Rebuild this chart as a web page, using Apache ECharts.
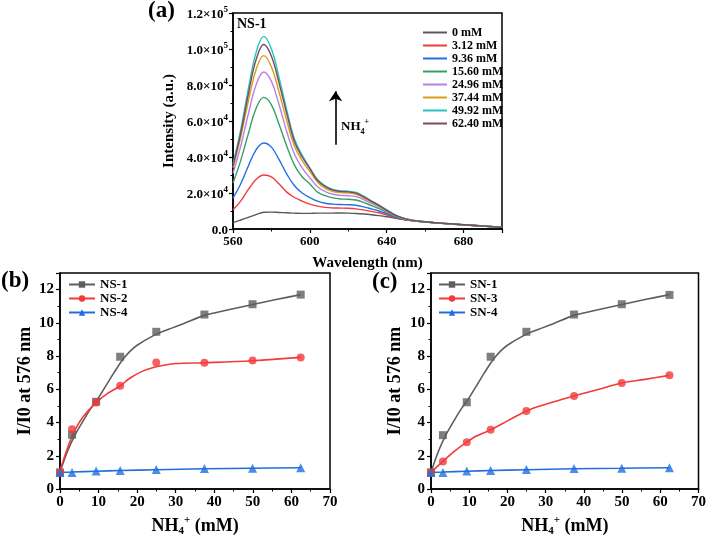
<!DOCTYPE html>
<html>
<head>
<meta charset="utf-8">
<script src="https://cdn.jsdelivr.net/npm/echarts@6/dist/echarts.min.js"></script>
<style>
html,body{margin:0;padding:0;background:#fff;}
#chart{width:709px;height:539px;}
</style>
</head>
<body>
<div id="chart"></div>
<script>
// ---------- Panel (a): emission spectra ----------
const wavelengths = [560,564,568,572,576,580,584,588,592,596,600,604,608,612,616,620,624,628,632,636,640,644,648,652,656,660,665,670,680,690,700];
const spectraNames = ['0 mM','3.12 mM','9.36 mM','15.60 mM','24.96 mM','37.44 mM','49.92 mM','62.40 mM'];
const spec0    = [3500,5000,6500,8000,9300,9400,9200,9000,8800,8700,8700,8800,8800,8800,8900,8800,8600,8300,7900,7400,6800,6100,5400,4800,4300,3900,3400,3000,2300,1600,1000];
const spec312  = [10700,15500,22000,27500,30000,29000,25000,20500,17500,15500,13800,12700,12000,11700,11600,11500,11200,10600,9800,9000,7800,6500,5400,4700,4300,3900,3400,3000,2300,1600,1000];
const spec936  = [17200,25000,35000,44000,47800,45500,38500,30500,24000,20000,17500,15500,14300,13800,13600,13500,13200,12300,11200,10000,8500,6900,5600,4800,4300,3900,3400,3000,2300,1600,1000];
const spec1560 = [25600,38000,53000,67000,73100,69000,58000,46000,35500,29000,25000,20500,18500,17300,16700,16500,16100,14800,13000,11300,9300,7300,5800,4900,4400,4000,3500,3100,2300,1600,1000];
const spec2496 = [31000,46000,64000,80000,87200,82000,69000,54000,41500,34000,28500,23500,20800,19300,18700,18500,18000,16300,14300,12200,9800,7600,6000,5000,4400,4000,3500,3100,2400,1700,1000];
const spec3744 = [34000,51000,71000,88500,96300,90000,76000,60000,46000,38000,32000,26000,22500,20800,20200,20000,19300,17300,15000,12700,10100,7800,6100,5100,4500,4000,3500,3100,2400,1700,1000];
const spec4992 = [36000,55000,78000,98000,107000,100000,84000,66000,50000,41000,34000,27500,24000,22000,21200,21000,20300,18200,15700,13300,10600,8100,6300,5200,4500,4000,3500,3100,2400,1700,1000];
const spec6240 = [35000,53000,75000,94000,102500,96000,81000,64000,48500,40000,33500,27000,23500,21600,20900,20600,19900,17900,15400,13100,10400,7900,6200,5100,4500,4000,3500,3100,2400,1700,1000];
const spectra = [spec0,spec312,spec936,spec1560,spec2496,spec3744,spec4992,spec6240];
const spectraColors = ['#5a5a5a','#f23c3c','#2370e0','#33a064','#b97fe6','#d49f1c','#22c6bd','#7b4a5c'];
const xTicksA = [560,600,640,680];
const yTickLabelsA = {0:'0.0',20000:'2.0×10|4',40000:'4.0×10|4',60000:'6.0×10|4',80000:'8.0×10|4',100000:'1.0×10|5',120000:'1.2×10|5'};
const arrowX = 613.4, arrowY0 = 46800, arrowY1 = 76500;

// ---------- Panels (b),(c): I/I0 at 576 nm ----------
const conc = [0,3.12,9.36,15.60,24.96,37.44,49.92,62.40];
const ns1 = [1.0,3.26,5.25,7.96,9.46,10.5,11.12,11.7];
const ns2 = [1.0,3.6,5.2,6.22,7.62,7.6,7.74,7.92];
const ns4 = [1.0,1.0,1.08,1.12,1.17,1.23,1.25,1.28];
const sn1 = [1.0,3.24,5.22,7.96,9.46,10.5,11.12,11.68];
const sn3 = [1.0,1.66,2.82,3.56,4.7,5.6,6.38,6.84];
const sn4 = [1.0,1.0,1.08,1.12,1.17,1.23,1.25,1.28];
// fitted curves
const fit1X = [0,2,4,6,8,10,12,14,16,18,20,24,28,32,37.44,44,50,56,62.4];
const fit1Y = [1.0,2.3,3.3,4.1,4.85,5.5,6.25,7.0,7.7,8.25,8.65,9.2,9.6,9.95,10.45,10.8,11.1,11.4,11.7];
const fitNs2X = [0,2,4,6,9.36,12,15.6,18,21,24,27,30,37.44,50,62.4];
const fitNs2Y = [1.1,2.5,3.6,4.35,5.2,5.7,6.2,6.65,7.05,7.3,7.45,7.55,7.6,7.72,7.92];
const fitSn3X = [0,3.12,6,9.36,12,15.6,20,24.96,30,37.44,44,49.92,56,62.4];
const fitSn3Y = [1.0,1.66,2.25,2.82,3.2,3.56,4.1,4.7,5.1,5.6,6.0,6.38,6.6,6.84];
const fit4Y = [1.0,1.02,1.07,1.11,1.16,1.22,1.25,1.28];

const FONT = '"Liberation Serif","Times New Roman",serif';
const zip = (xs, ys) => xs.map((x, i) => [x, ys[i]]);

const chart = echarts.init(document.getElementById('chart'));

function axisBase(extra) {
  return Object.assign({
    axisLine: {show: true, onZero: false, lineStyle: {color: '#000', width: 1.5}},
    axisTick: {show: true, length: 4, lineStyle: {color: '#000', width: 1.2}},
    minorTick: {show: true, splitNumber: 2, length: 2.5, lineStyle: {color: '#000', width: 1}},
    splitLine: {show: false},
    nameTextStyle: {fontFamily: FONT, fontWeight: 'bold', color: '#000'}
  }, extra);
}

const nhRich = {
  a: {fontFamily: FONT, fontWeight: 'bold', fontSize: 18, color: '#000', lineHeight: 22, verticalAlign: 'middle'},
  s: {fontFamily: FONT, fontWeight: 'bold', fontSize: 11, color: '#000', verticalAlign: 'bottom', lineHeight: 22},
  p: {fontFamily: FONT, fontWeight: 'bold', fontSize: 11, color: '#000', verticalAlign: 'top', lineHeight: 22}
};

const series = [];
spectra.forEach((arr, i) => {
  const s = {
    name: spectraNames[i], type: 'line', xAxisIndex: 0, yAxisIndex: 0,
    data: zip(wavelengths, arr), smooth: 0.4, symbol: 'none',
    lineStyle: {width: 1.4, color: spectraColors[i]}, itemStyle: {color: spectraColors[i]},
    z: 2 + i
  };
  if (i === 0) {
    s.markLine = {
      silent: true, symbol: ['none', 'arrow'], symbolSize: 10,
      lineStyle: {color: '#000', width: 1.6, type: 'solid'}, label: {show: false},
      data: [[{coord: [arrowX, arrowY0]}, {coord: [arrowX, arrowY1]}]]
    };
  }
  series.push(s);
});

function addPanel(idx, names, pts, fits, symbols, colors) {
  names.forEach((nm, k) => {
    series.push({
      name: nm, type: 'line', xAxisIndex: idx, yAxisIndex: idx,
      data: fits[k], smooth: 0.35, symbol: symbols[k], symbolSize: 8, showSymbol: false,
      lineStyle: {width: 1.6, color: colors[k]}, itemStyle: {color: colors[k]}, z: 3
    });
    series.push({
      name: nm + ' data', type: 'scatter', xAxisIndex: idx, yAxisIndex: idx,
      data: zip(conc, pts[k]), symbol: symbols[k], symbolSize: symbols[k] === 'triangle' ? 9 : 8,
      itemStyle: {color: colors[k]}, z: 4
    });
  });
}
const ptColors = ['#5e5e5e', '#f23a3a', '#1f6fdd'];
const ptSymbols = ['rect', 'circle', 'triangle'];
addPanel(1, ['NS-1','NS-2','NS-4'], [ns1, ns2, ns4],
  [zip(fit1X, fit1Y), zip(fitNs2X, fitNs2Y), zip(conc, fit4Y)], ptSymbols, ptColors);
addPanel(2, ['SN-1','SN-3','SN-4'], [sn1, sn3, sn4],
  [zip(fit1X, fit1Y), zip(fitSn3X, fitSn3Y), zip(conc, fit4Y)], ptSymbols, ptColors);

const gridStyle = {show: true, borderColor: '#000', borderWidth: 1.5, backgroundColor: 'transparent', containLabel: false};

const concAxis = (gi) => axisBase({
  type: 'value', gridIndex: gi, min: 0, max: 70, interval: 10,
  axisLabel: {fontFamily: FONT, fontWeight: 'bold', fontSize: 15, color: '#000', margin: 6},
  name: '{a|NH}{s|4}{p|+}{a| (mM)}', nameLocation: 'middle', nameGap: 26,
  nameTextStyle: {rich: nhRich}
});
const ratioAxis = (gi, gap) => axisBase({
  type: 'value', gridIndex: gi, min: 0, max: 13, interval: 2,
  axisLabel: {fontFamily: FONT, fontWeight: 'bold', fontSize: 15, color: '#000', margin: 6, showMaxLabel: false},
  name: 'I/I0 at 576 nm', nameLocation: 'middle', nameGap: gap, nameRotate: 90,
  nameTextStyle: {fontFamily: FONT, fontWeight: 'bold', fontSize: 18, color: '#000'}
});

const smallLegend = (names, left) => ({
  data: names, orient: 'vertical', left: left, top: 278, padding: 0,
  itemWidth: 26, itemHeight: 8, itemGap: 1,
  textStyle: {fontFamily: FONT, fontWeight: 'bold', fontSize: 13, color: '#000', lineHeight: 13}
});

const option = {
  backgroundColor: '#fff',
  animation: false,
  textStyle: {fontFamily: FONT},
  grid: [
    Object.assign({left: 233, top: 13, width: 269, height: 216}, gridStyle),
    Object.assign({left: 60, top: 273, width: 270, height: 216}, gridStyle),
    Object.assign({left: 431, top: 273, width: 269, height: 216}, gridStyle)
  ],
  xAxis: [
    axisBase({
      type: 'value', gridIndex: 0, min: 560, max: 700, interval: 40,
      axisLabel: {fontFamily: FONT, fontWeight: 'bold', fontSize: 13, color: '#000', margin: 6, showMaxLabel: false,
        formatter: v => (xTicksA.indexOf(v) >= 0 ? String(v) : '')},
      name: 'Wavelength (nm)', nameLocation: 'middle', nameGap: 27,
      nameTextStyle: {fontFamily: FONT, fontWeight: 'bold', fontSize: 15, color: '#000'}
    }),
    concAxis(1),
    concAxis(2)
  ],
  yAxis: [
    axisBase({
      type: 'value', gridIndex: 0, min: 0, max: 120000, interval: 20000,
      axisLabel: {
        margin: 5, color: '#000',
        formatter: v => {
          const t = yTickLabelsA[v];
          if (t === undefined) return '';
          const parts = t.split('|');
          return parts.length === 1 ? '{m|' + parts[0] + '}' : '{m|' + parts[0] + '}{e|' + parts[1] + '}';
        },
        rich: {
          m: {fontFamily: FONT, fontWeight: 'bold', fontSize: 13, color: '#000', lineHeight: 16, verticalAlign: 'bottom'},
          e: {fontFamily: FONT, fontWeight: 'bold', fontSize: 9, color: '#000', lineHeight: 16, verticalAlign: 'top'}
        }
      },
      name: 'Intensity (a.u.)', nameLocation: 'middle', nameGap: 56, nameRotate: 90,
      nameTextStyle: {fontFamily: FONT, fontWeight: 'bold', fontSize: 15, color: '#000'}
    }),
    ratioAxis(1, 26),
    ratioAxis(2, 27)
  ],
  legend: [
    {
      data: spectraNames, orient: 'vertical', left: 422, top: 26, padding: 0,
      itemWidth: 24, itemHeight: 13, itemGap: 0,
      itemStyle: {opacity: 0},
      textStyle: {fontFamily: FONT, fontWeight: 'bold', fontSize: 12, color: '#000', lineHeight: 13}
    },
    smallLegend(['NS-1','NS-2','NS-4'], 68),
    smallLegend(['SN-1','SN-3','SN-4'], 438)
  ],
  graphic: [
    {type: 'text', left: 148, top: 0, style: {text: '(a)', font: 'bold 23px ' + FONT, fill: '#000'}},
    {type: 'text', left: 1, top: 270, style: {text: '(b)', font: 'bold 23px ' + FONT, fill: '#000'}},
    {type: 'text', left: 372, top: 271, style: {text: '(c)', font: 'bold 23px ' + FONT, fill: '#000'}},
    {type: 'text', left: 237, top: 17, style: {text: 'NS-1', font: 'bold 14px ' + FONT, fill: '#000'}},
    {type: 'text', left: 341, top: 118, style: {
      text: '{a|NH}{s|4}{p|+}',
      rich: {
        a: {fontFamily: FONT, fontWeight: 'bold', fontSize: 13, fill: '#000', color: '#000', lineHeight: 18, verticalAlign: 'middle'},
        s: {fontFamily: FONT, fontWeight: 'bold', fontSize: 8, fill: '#000', color: '#000', lineHeight: 18, verticalAlign: 'bottom'},
        p: {fontFamily: FONT, fontWeight: 'bold', fontSize: 8, fill: '#000', color: '#000', lineHeight: 18, verticalAlign: 'top'}
      }
    }}
  ],
  series: series
};
chart.setOption(option);
</script>
</body>
</html>
